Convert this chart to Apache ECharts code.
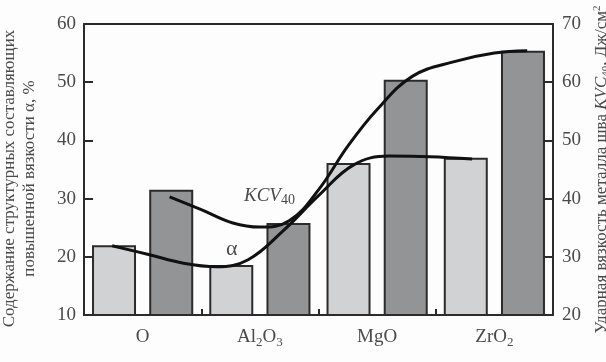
<!DOCTYPE html>
<html>
<head>
<meta charset="utf-8">
<script src="https://cdn.jsdelivr.net/npm/echarts@6/dist/echarts.min.js"></script>
<style>
  html, body { margin: 0; padding: 0; background: #fdfdfd; }
  #chart { width: 606px; height: 362px; }
</style>
</head>
<body>
<div id="chart"></div>
<script>
// оксиды в шихте и значения по столбикам
var categories = ['O', 'Al2O3', 'MgO', 'ZrO2'];
var alphaBars = [22.0, 18.6, 36.1, 37.0];   // левая ось, %
var kcvBars = [41.5, 35.8, 60.4, 65.4];     // правая ось, Дж/см2

// сглаживающие кривые (x — в долях категорий, 0..4)
var alphaCurveX = [0.24, 0.55, 0.85, 1.13, 1.40, 1.70, 2.00, 2.30, 2.60, 2.95, 3.31];
var alphaCurveY = [21.9, 20.4, 18.9, 18.3, 19.5, 24.5, 30.5, 35.8, 37.3, 37.2, 36.8];
var kcvCurveX = [0.73, 1.00, 1.27, 1.50, 1.75, 2.00, 2.25, 2.50, 2.80, 3.15, 3.50, 3.78];
var kcvCurveY = [40.3, 38.1, 35.8, 35.1, 36.2, 41.5, 49.0, 55.3, 61.0, 63.5, 65.0, 65.4];

var leftRange = [10, 60];
var rightRange = [20, 70];
var tickStep = 10;

(function () {
  var ink = '#2b2b2b';
  var muted = '#4a4a4a';
  var serif = '"Liberation Serif", "DejaVu Serif", serif';

  var chart = echarts.init(document.getElementById('chart'), null, { renderer: 'canvas' });

  function pairs(xs, ys) {
    return xs.map(function (x, i) { return [x, ys[i]]; });
  }

  // Al2O3 -> Al{s|2}O{s|3}
  function chem(v) {
    return v.replace(/([^0-9]+)|([0-9]+)/g, function (m, a, d) {
      return a ? '{n|' + a + '}' : '{s|' + d + '}';
    });
  }

  var frameLine = { show: true, onZero: false, lineStyle: { color: ink, width: 2 } };

  chart.setOption({
    backgroundColor: '#fdfdfd',
    animation: false,
    grid: { left: 84, right: 53, top: 24, bottom: 47, containLabel: false, outerBoundsMode: 'none' },
    xAxis: [
      {
        type: 'category',
        data: categories,
        position: 'bottom',
        axisLine: frameLine,
        axisTick: { show: true, inside: true, length: 6, interval: 0, lineStyle: { color: ink, width: 2 } },
        axisLabel: {
          margin: 10,
          interval: 0,
          formatter: chem,
          rich: {
            n: { fontFamily: serif, fontSize: 19, color: muted, lineHeight: 24 },
            s: { fontFamily: serif, fontSize: 13, color: muted, lineHeight: 24, verticalAlign: 'bottom' }
          }
        }
      },
      {
        type: 'value',
        min: 0,
        max: 4,
        position: 'top',
        axisLine: frameLine,
        axisTick: { show: false },
        axisLabel: { show: false },
        splitLine: { show: false }
      }
    ],
    yAxis: [
      {
        type: 'value',
        min: leftRange[0],
        max: leftRange[1],
        interval: tickStep,
        position: 'left',
        axisLine: frameLine,
        axisTick: { show: true, inside: true, length: 9, lineStyle: { color: ink, width: 2 } },
        axisLabel: { color: muted, fontSize: 19, fontFamily: serif, margin: 8 },
        splitLine: { show: false },
        name: 'Содержание структурных составляющих\nповышенной вязкости α, %',
        nameLocation: 'middle',
        nameRotate: 90,
        nameGap: 44,
        nameTextStyle: { color: muted, fontSize: 17, fontFamily: serif, lineHeight: 20, padding: [0, 18, 0, 0] }
      },
      {
        type: 'value',
        min: rightRange[0],
        max: rightRange[1],
        interval: tickStep,
        position: 'right',
        axisLine: frameLine,
        axisTick: { show: true, inside: true, length: 12, lineStyle: { color: ink, width: 2 } },
        axisLabel: { color: muted, fontSize: 19, fontFamily: serif, margin: 9 },
        splitLine: { show: false },
        name: '{n|Ударная вязкость металла шва }{i|KVC}{s|40}{n|, Дж/см}{p|2}',
        nameLocation: 'middle',
        nameRotate: 90,
        nameGap: 36,
        nameTextStyle: {
          rich: {
            n: { color: muted, fontSize: 17, fontFamily: serif, lineHeight: 20 },
            i: { color: muted, fontSize: 17, fontFamily: serif, fontStyle: 'italic', lineHeight: 20 },
            s: { color: muted, fontSize: 11, fontFamily: serif, lineHeight: 20, verticalAlign: 'bottom' },
            p: { color: muted, fontSize: 11, fontFamily: serif, lineHeight: 20, verticalAlign: 'top' }
          }
        }
      }
    ],
    graphic: [
      {
        type: 'text',
        left: 244,
        top: 186,
        style: {
          text: '{i|KCV}{s|40}',
          rich: {
            i: { fontFamily: serif, fontStyle: 'italic', fontSize: 19, fill: muted, lineHeight: 24 },
            s: { fontFamily: serif, fontSize: 14, fill: muted, lineHeight: 24, verticalAlign: 'bottom' }
          }
        },
        z: 10
      },
      {
        type: 'text',
        left: 226,
        top: 238,
        style: { text: 'α', fontFamily: serif, fontSize: 22, fill: muted },
        z: 10
      }
    ],
    series: [
      {
        name: 'α',
        type: 'bar',
        xAxisIndex: 0,
        yAxisIndex: 0,
        data: alphaBars,
        barWidth: 44,
        barGap: '30%',
        itemStyle: { color: '#d1d2d4', borderColor: ink, borderWidth: 2 }
      },
      {
        name: 'KCV',
        type: 'bar',
        xAxisIndex: 0,
        yAxisIndex: 1,
        data: kcvBars,
        barWidth: 44,
        barGap: '30%',
        itemStyle: { color: '#939496', borderColor: ink, borderWidth: 2 }
      },
      {
        name: 'α-кривая',
        type: 'line',
        xAxisIndex: 1,
        yAxisIndex: 0,
        data: pairs(alphaCurveX, alphaCurveY),
        smooth: 0.4,
        showSymbol: false,
        lineStyle: { color: '#111', width: 3 },
        z: 5
      },
      {
        name: 'KCV-кривая',
        type: 'line',
        xAxisIndex: 1,
        yAxisIndex: 1,
        data: pairs(kcvCurveX, kcvCurveY),
        smooth: 0.4,
        showSymbol: false,
        lineStyle: { color: '#111', width: 3 },
        z: 5
      }
    ]
  });

  window.addEventListener('resize', function () {
    chart.resize();
  });
})();
</script>
</body>
</html>
